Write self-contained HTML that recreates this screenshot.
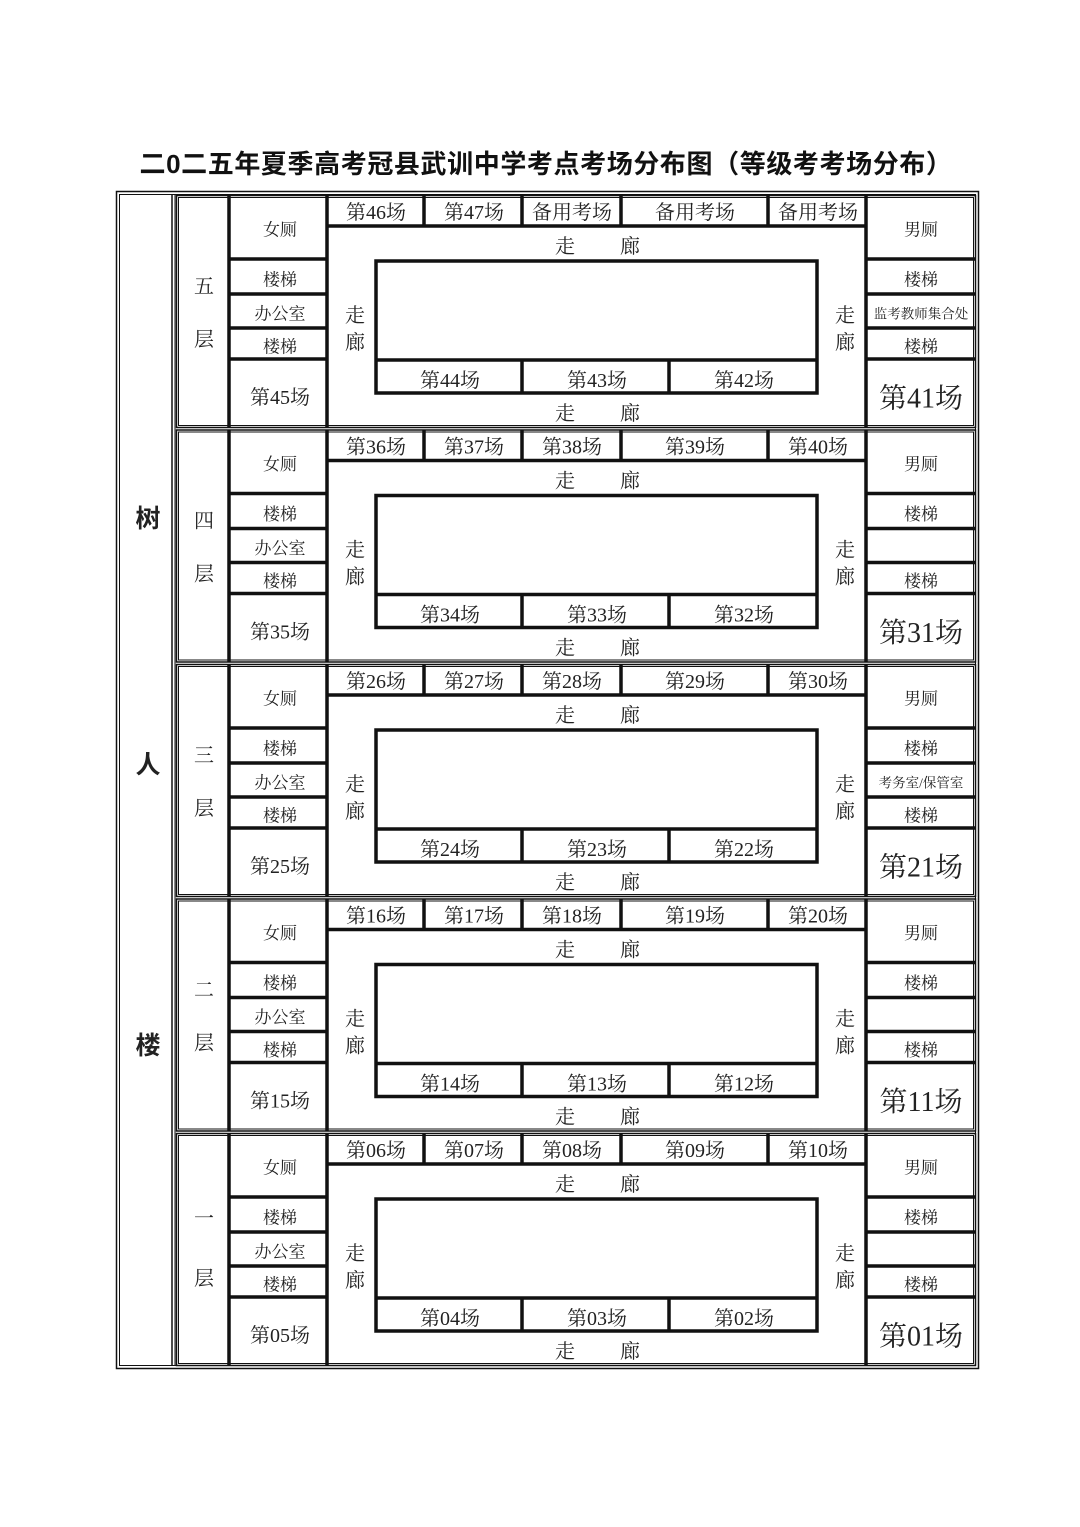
<!DOCTYPE html>
<html><head><meta charset="utf-8"><style>
body{margin:0;background:#fff;}
svg{display:block;}
.t{font-family:"Liberation Serif","Noto Serif CJK SC",serif;fill:#222;text-anchor:middle;dominant-baseline:central;}
</style></head><body>
<svg width="1080" height="1527" viewBox="0 0 1080 1527" xmlns="http://www.w3.org/2000/svg">
<defs>
<g id="fl" fill="none" stroke="#111">
  <rect x="176.5" y="195.5" width="799" height="232" stroke-width="1.5"/>
  <rect x="178.5" y="197.5" width="795" height="228" stroke-width="1"/>
  <g stroke-width="3.5">
    <line x1="229" y1="196" x2="229" y2="427"/>
    <line x1="327" y1="196" x2="327" y2="427"/>
    <line x1="866" y1="196" x2="866" y2="427"/>
    <line x1="327" y1="226" x2="866" y2="226"/>
    <line x1="424" y1="196" x2="424" y2="226"/>
    <line x1="522" y1="196" x2="522" y2="226"/>
    <line x1="621" y1="196" x2="621" y2="226"/>
    <line x1="768" y1="196" x2="768" y2="226"/>
    <line x1="229" y1="259" x2="327" y2="259"/>
    <line x1="229" y1="294" x2="327" y2="294"/>
    <line x1="229" y1="328" x2="327" y2="328"/>
    <line x1="229" y1="359" x2="327" y2="359"/>
    <line x1="866" y1="259" x2="976" y2="259"/>
    <line x1="866" y1="294" x2="976" y2="294"/>
    <line x1="866" y1="328" x2="976" y2="328"/>
    <line x1="866" y1="359" x2="976" y2="359"/>
    <rect x="376" y="261" width="441" height="132"/>
    <line x1="376" y1="360" x2="817" y2="360"/>
    <line x1="522" y1="360" x2="522" y2="393"/>
    <line x1="669" y1="360" x2="669" y2="393"/>
  </g>
</g>
</defs>
<text x="546" y="164" class="t" style="font-family:'Liberation Sans','Noto Sans CJK SC',sans-serif;font-weight:bold;font-size:26px;letter-spacing:0.6px;fill:#111">二0二五年夏季高考冠县武训中学考点考场分布图（等级考考场分布）</text>
<rect x="116.5" y="191.5" width="862" height="1177" fill="none" stroke="#111" stroke-width="1.5"/>
<rect x="119.5" y="194.5" width="856" height="1171" fill="none" stroke="#111" stroke-width="1"/>
<line x1="172" y1="195" x2="172" y2="1366" stroke="#111" stroke-width="1.5"/>
<line x1="175" y1="195" x2="175" y2="1366" stroke="#111" stroke-width="1"/>
<g class="t" style="font-family:'Liberation Sans','Noto Sans CJK SC',sans-serif;font-weight:bold;font-size:25px;">
<text x="148" y="519">树</text><text x="148" y="765">人</text><text x="148" y="1046">楼</text>
</g>
<use href="#fl"/>
<use href="#fl" y="234.5"/>
<use href="#fl" y="469"/>
<use href="#fl" y="703.5"/>
<use href="#fl" y="938"/>

<g transform="translate(0,2)">
<!-- floor 5 -->
<g class="t" font-size="20">
<text x="204" y="285">五</text><text x="204" y="338">层</text>
<text x="280" y="228" font-size="17">女厕</text>
<text x="280" y="278" font-size="17">楼梯</text>
<text x="280" y="312" font-size="17">办公室</text>
<text x="280" y="345" font-size="17">楼梯</text>
<text x="280" y="396">第45场</text>
<text x="376" y="211">第46场</text><text x="474" y="211">第47场</text><text x="572" y="211">备用考场</text><text x="695" y="211">备用考场</text><text x="818" y="211">备用考场</text>
<text x="565" y="245">走</text><text x="630" y="245">廊</text>
<text x="565" y="412">走</text><text x="630" y="412">廊</text>
<text x="355" y="314">走</text><text x="355" y="341">廊</text>
<text x="845" y="314">走</text><text x="845" y="341">廊</text>
<text x="450" y="379">第44场</text><text x="597" y="379">第43场</text><text x="744" y="379">第42场</text>
<text x="921" y="228" font-size="17">男厕</text>
<text x="921" y="278" font-size="17">楼梯</text>
<text x="921" y="312" font-size="13.5">监考教师集合处</text>
<text x="921" y="345" font-size="17">楼梯</text>
<text x="921" y="397" font-size="28">第41场</text>
</g>
<!-- floor 4 -->
<g class="t" font-size="20" transform="translate(0,234.5)">
<text x="204" y="285">四</text><text x="204" y="338">层</text>
<text x="280" y="228" font-size="17">女厕</text>
<text x="280" y="278" font-size="17">楼梯</text>
<text x="280" y="312" font-size="17">办公室</text>
<text x="280" y="345" font-size="17">楼梯</text>
<text x="280" y="396">第35场</text>
<text x="376" y="211">第36场</text><text x="474" y="211">第37场</text><text x="572" y="211">第38场</text><text x="695" y="211">第39场</text><text x="818" y="211">第40场</text>
<text x="565" y="245">走</text><text x="630" y="245">廊</text>
<text x="565" y="412">走</text><text x="630" y="412">廊</text>
<text x="355" y="314">走</text><text x="355" y="341">廊</text>
<text x="845" y="314">走</text><text x="845" y="341">廊</text>
<text x="450" y="379">第34场</text><text x="597" y="379">第33场</text><text x="744" y="379">第32场</text>
<text x="921" y="228" font-size="17">男厕</text>
<text x="921" y="278" font-size="17">楼梯</text>
<text x="921" y="345" font-size="17">楼梯</text>
<text x="921" y="397" font-size="28">第31场</text>
</g>
<!-- floor 3 -->
<g class="t" font-size="20" transform="translate(0,469)">
<text x="204" y="285">三</text><text x="204" y="338">层</text>
<text x="280" y="228" font-size="17">女厕</text>
<text x="280" y="278" font-size="17">楼梯</text>
<text x="280" y="312" font-size="17">办公室</text>
<text x="280" y="345" font-size="17">楼梯</text>
<text x="280" y="396">第25场</text>
<text x="376" y="211">第26场</text><text x="474" y="211">第27场</text><text x="572" y="211">第28场</text><text x="695" y="211">第29场</text><text x="818" y="211">第30场</text>
<text x="565" y="245">走</text><text x="630" y="245">廊</text>
<text x="565" y="412">走</text><text x="630" y="412">廊</text>
<text x="355" y="314">走</text><text x="355" y="341">廊</text>
<text x="845" y="314">走</text><text x="845" y="341">廊</text>
<text x="450" y="379">第24场</text><text x="597" y="379">第23场</text><text x="744" y="379">第22场</text>
<text x="921" y="228" font-size="17">男厕</text>
<text x="921" y="278" font-size="17">楼梯</text>
<text x="921" y="312" font-size="13.5">考务室/保管室</text>
<text x="921" y="345" font-size="17">楼梯</text>
<text x="921" y="397" font-size="28">第21场</text>
</g>
<!-- floor 2 -->
<g class="t" font-size="20" transform="translate(0,703.5)">
<text x="204" y="285">二</text><text x="204" y="338">层</text>
<text x="280" y="228" font-size="17">女厕</text>
<text x="280" y="278" font-size="17">楼梯</text>
<text x="280" y="312" font-size="17">办公室</text>
<text x="280" y="345" font-size="17">楼梯</text>
<text x="280" y="396">第15场</text>
<text x="376" y="211">第16场</text><text x="474" y="211">第17场</text><text x="572" y="211">第18场</text><text x="695" y="211">第19场</text><text x="818" y="211">第20场</text>
<text x="565" y="245">走</text><text x="630" y="245">廊</text>
<text x="565" y="412">走</text><text x="630" y="412">廊</text>
<text x="355" y="314">走</text><text x="355" y="341">廊</text>
<text x="845" y="314">走</text><text x="845" y="341">廊</text>
<text x="450" y="379">第14场</text><text x="597" y="379">第13场</text><text x="744" y="379">第12场</text>
<text x="921" y="228" font-size="17">男厕</text>
<text x="921" y="278" font-size="17">楼梯</text>
<text x="921" y="345" font-size="17">楼梯</text>
<text x="921" y="397" font-size="28">第11场</text>
</g>
<!-- floor 1 -->
<g class="t" font-size="20" transform="translate(0,938)">
<text x="204" y="279">一</text><text x="204" y="339">层</text>
<text x="280" y="228" font-size="17">女厕</text>
<text x="280" y="278" font-size="17">楼梯</text>
<text x="280" y="312" font-size="17">办公室</text>
<text x="280" y="345" font-size="17">楼梯</text>
<text x="280" y="396">第05场</text>
<text x="376" y="211">第06场</text><text x="474" y="211">第07场</text><text x="572" y="211">第08场</text><text x="695" y="211">第09场</text><text x="818" y="211">第10场</text>
<text x="565" y="245">走</text><text x="630" y="245">廊</text>
<text x="565" y="412">走</text><text x="630" y="412">廊</text>
<text x="355" y="314">走</text><text x="355" y="341">廊</text>
<text x="845" y="314">走</text><text x="845" y="341">廊</text>
<text x="450" y="379">第04场</text><text x="597" y="379">第03场</text><text x="744" y="379">第02场</text>
<text x="921" y="228" font-size="17">男厕</text>
<text x="921" y="278" font-size="17">楼梯</text>
<text x="921" y="345" font-size="17">楼梯</text>
<text x="921" y="397" font-size="28">第01场</text>
</g>
</g>
</svg>
</body></html>
